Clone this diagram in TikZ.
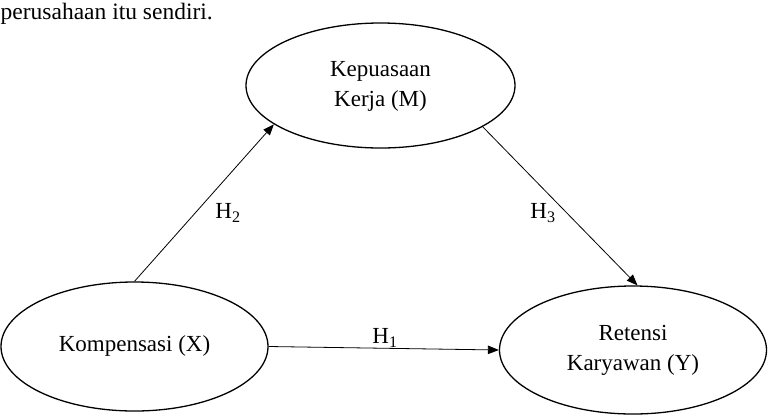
\documentclass[tikz,border=0pt]{standalone}
\usepackage{fontspec}
\setmainfont{Liberation Serif}
\usetikzlibrary{shapes.geometric,arrows.meta}
\begin{document}
\begin{tikzpicture}[x=1bp,y=-1bp,
  var/.style={ellipse,draw,line width=1.3bp,inner sep=0pt,align=center,
    font=\fontsize{23bp}{29.5bp}\selectfont},
  arr/.style={draw,line width=0.8bp,-{Triangle[length=11bp,width=8.5bp]}},
  hlab/.style={inner sep=0pt,font=\fontsize{23bp}{28bp}\selectfont}]
\useasboundingbox (0,0) rectangle (768,415);
\node[anchor=base west,inner sep=0pt,font=\fontsize{23.5bp}{28bp}\selectfont] (top) at (0.5,19) {perusahaan itu sendiri.};
\node[var,minimum width=269bp,minimum height=125bp] (M) at (380.5,85.5) {\raisebox{5bp}{\begin{tabular}{@{}c@{}}Kepuasaan\\[0.5bp] Kerja (M)\end{tabular}}};
\node[var,minimum width=267bp,minimum height=129bp] (X) at (134.5,346.5) {\raisebox{6bp}{Kompensasi (X)}};
\node[var,minimum width=267bp,minimum height=128bp] (Y) at (633,350) {\raisebox{8bp}{\begin{tabular}{@{}c@{}}Retensi\\[0.5bp] Karyawan (Y)\end{tabular}}};
\draw[arr] (X.north) -- (M.200);
\draw[arr] (M.338) -- (Y.86);
\draw[arr] (X.east) -- (Y.west);
\node[hlab] (h2) at (228,213) {H\textsubscript{2}};
\node[hlab] (h3) at (543,213) {H\textsubscript{3}};
\node[hlab] (h1) at (385,338) {H\textsubscript{1}};
\end{tikzpicture}
\end{document}
